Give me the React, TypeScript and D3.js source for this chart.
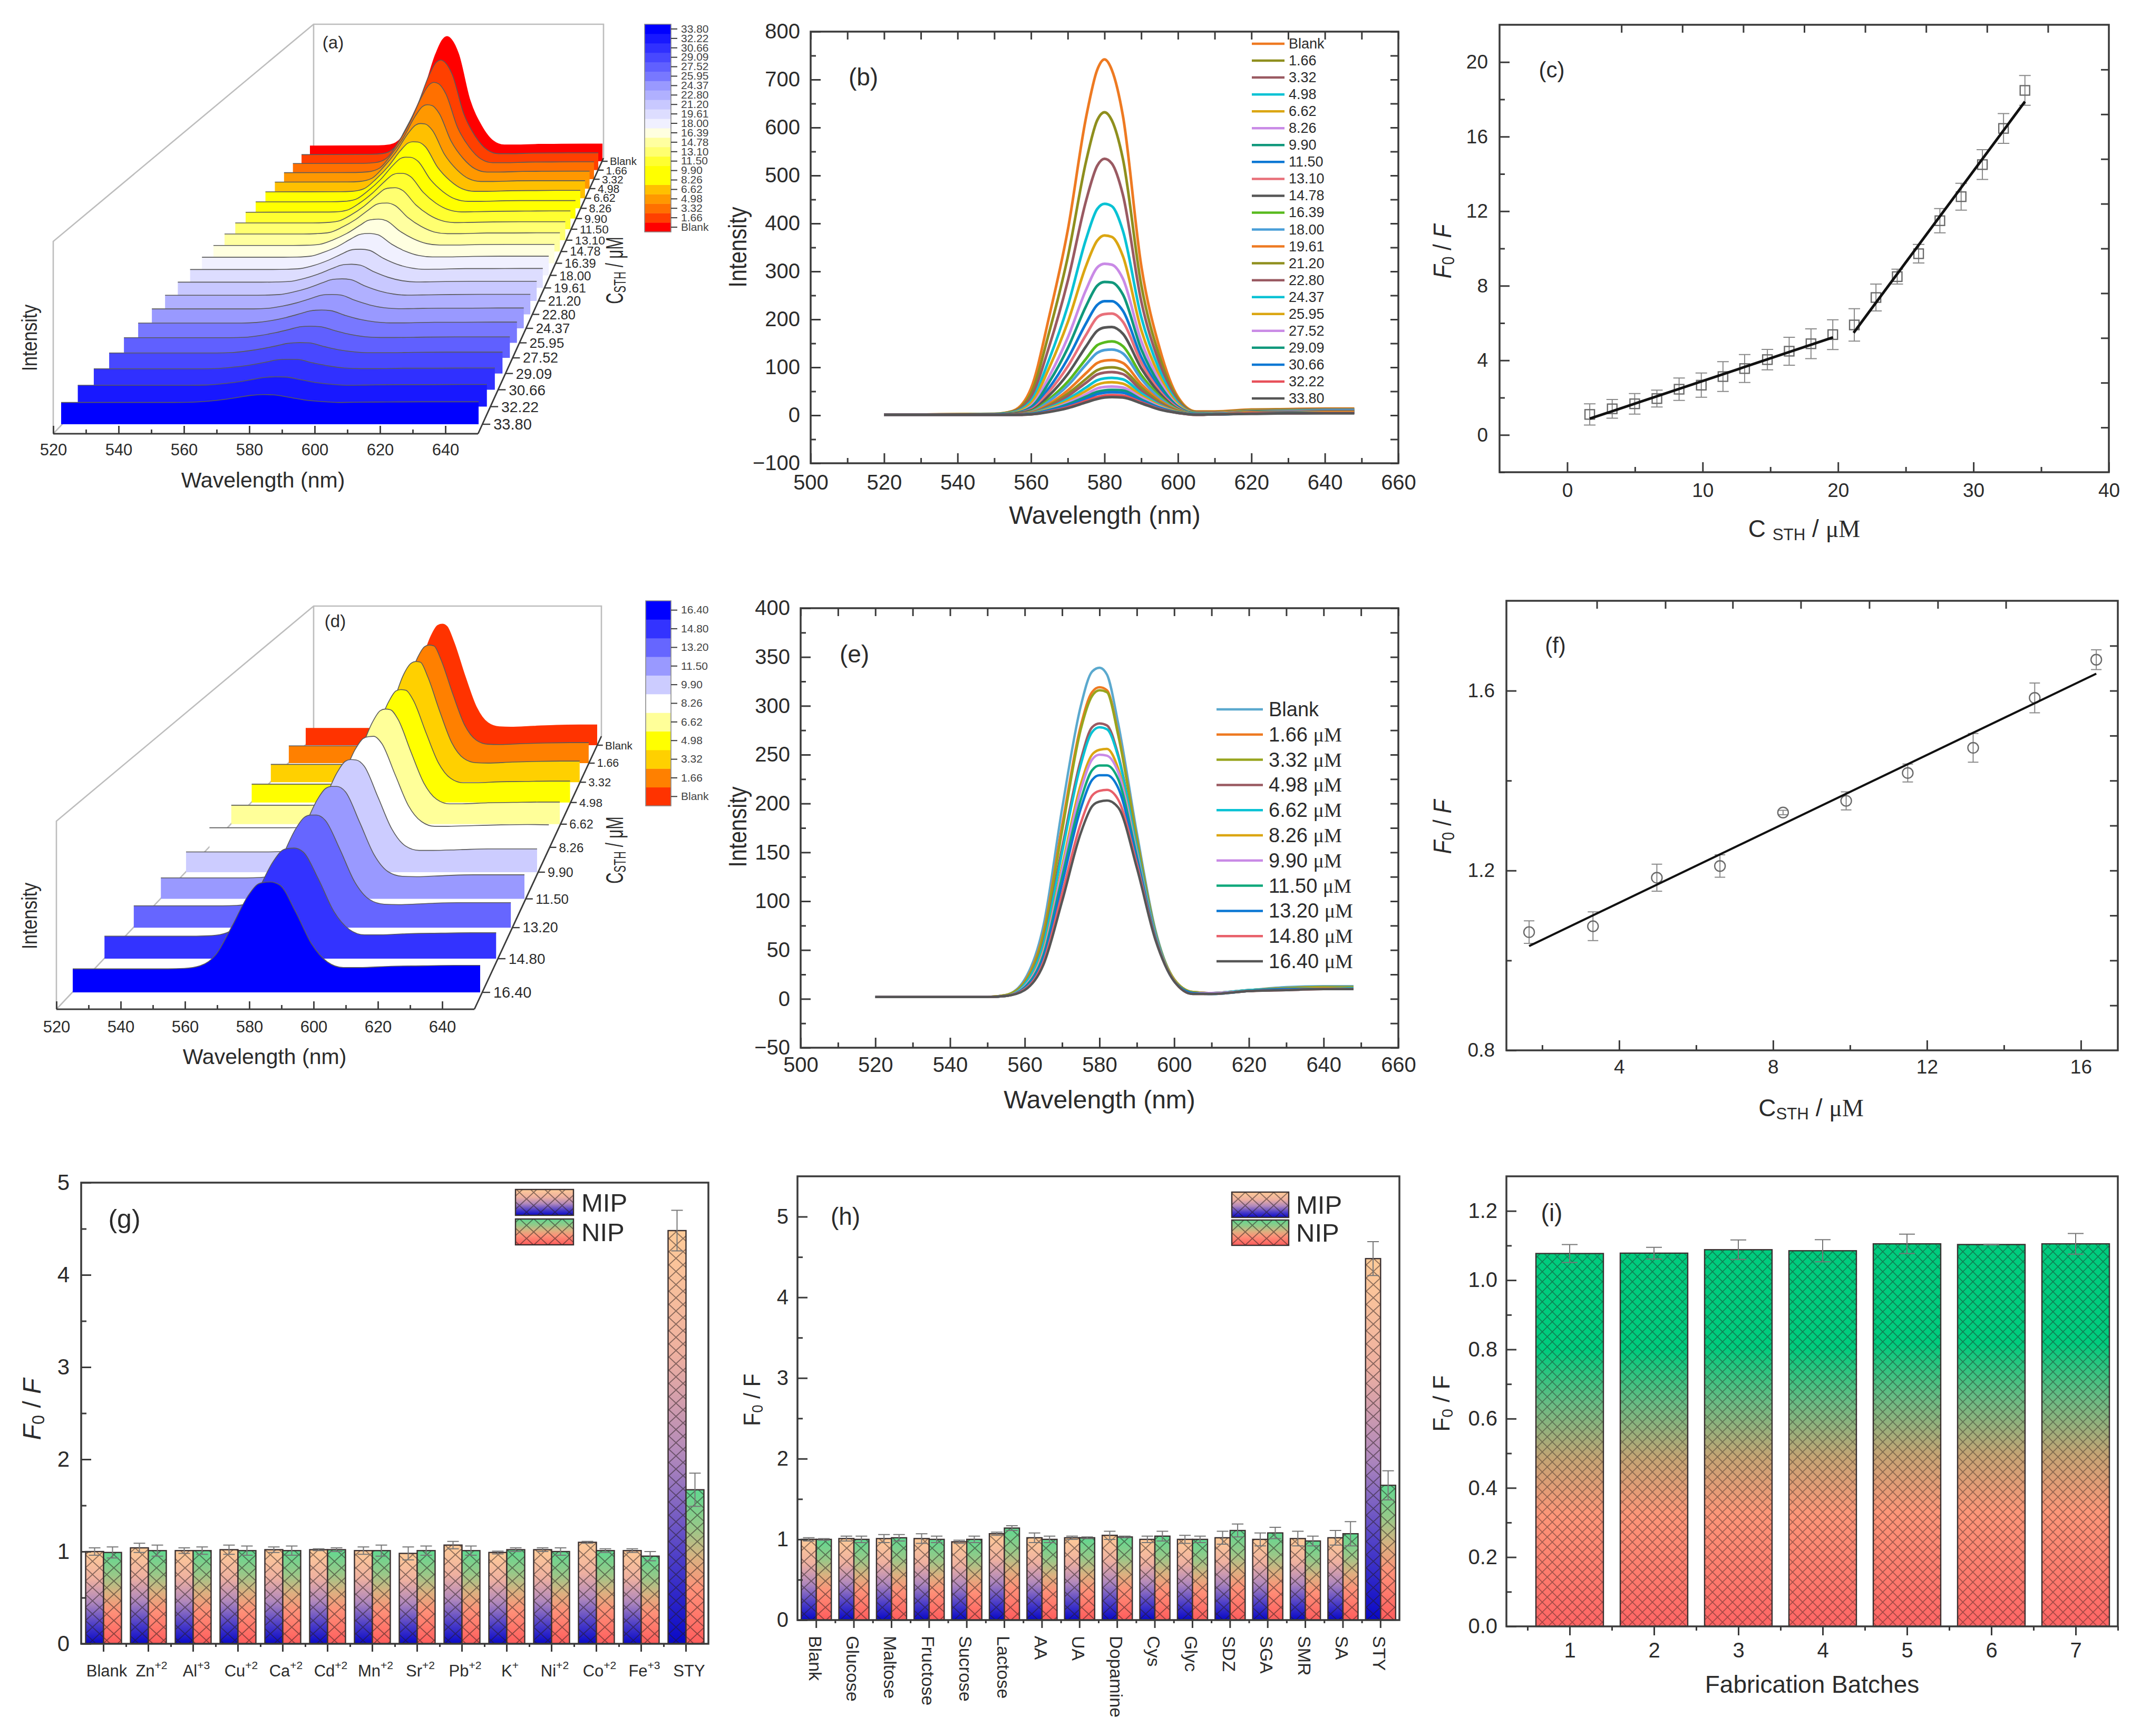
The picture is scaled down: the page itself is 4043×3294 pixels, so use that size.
import React, { useEffect, useRef } from 'react';
import * as d3 from 'd3';

const SANS = '"Liberation Sans", Arial, sans-serif';
const SERIF = '"Liberation Serif", "Times New Roman", serif';
const INK = '#2b2b2b';

// wavelength knots the spectra were read at
const WAVELENGTHS = [520, 550, 555, 560, 565, 570, 575, 578, 580, 582, 585, 590, 595, 600, 605, 610, 620, 630, 640, 648];

const LEVELS_B = ['Blank', '1.66', '3.32', '4.98', '6.62', '8.26', '9.90', '11.50', '13.10', '14.78', '16.39', '18.00', '19.61', '21.20', '22.80', '24.37', '25.95', '27.52', '29.09', '30.66', '32.22', '33.80'];
const SPECTRA_B = [
  [1, 3, 9, 56, 208, 386, 622, 720, 742, 720, 625, 312, 140, 38, 8, 8, 12, 13, 14, 14],
  [1, 3, 8, 46, 175, 330, 530, 615, 632, 615, 535, 272, 122, 34, 7, 7, 11, 12, 13, 13],
  [1, 2, 7, 38, 145, 280, 448, 520, 535, 525, 460, 238, 108, 30, 6, 6, 10, 11, 12, 12],
  [1, 2, 6, 30, 118, 228, 368, 430, 441, 436, 385, 205, 94, 26, 5, 5, 9, 10, 11, 11],
  [1, 2, 5, 25, 100, 194, 312, 364, 375, 372, 332, 178, 82, 23, 5, 5, 9, 10, 10, 10],
  [1, 2, 4, 20, 82, 162, 262, 308, 316, 314, 285, 155, 72, 20, 4, 4, 8, 9, 10, 10],
  [1, 2, 4, 17, 70, 140, 228, 270, 278, 277, 252, 138, 64, 18, 4, 4, 8, 9, 9, 9],
  [1, 2, 3, 14, 58, 118, 192, 230, 238, 238, 218, 122, 56, 16, 3, 4, 7, 8, 9, 9],
  [1, 1, 3, 12, 50, 102, 168, 204, 211, 212, 195, 110, 51, 15, 3, 4, 7, 8, 8, 8],
  [1, 1, 3, 10, 42, 86, 144, 176, 183, 184, 170, 98, 46, 13, 3, 3, 7, 7, 8, 8],
  [1, 1, 2, 8, 34, 70, 118, 146, 152, 154, 144, 84, 40, 12, 3, 3, 6, 7, 7, 7],
  [1, 1, 2, 7, 30, 62, 106, 130, 136, 137, 129, 76, 36, 11, 3, 3, 6, 7, 7, 7],
  [1, 1, 2, 6, 24, 52, 88, 109, 114, 115, 109, 65, 31, 10, 2, 3, 6, 6, 7, 7],
  [1, 1, 2, 5, 21, 45, 76, 94, 99, 100, 95, 58, 28, 9, 2, 3, 5, 6, 6, 6],
  [1, 1, 2, 5, 19, 40, 68, 85, 89, 90, 86, 52, 25, 8, 2, 3, 5, 6, 6, 6],
  [1, 1, 1, 4, 16, 34, 58, 73, 77, 78, 75, 46, 22, 7, 2, 3, 5, 5, 6, 6],
  [1, 1, 1, 4, 14, 30, 51, 64, 68, 69, 66, 41, 20, 7, 2, 2, 5, 5, 6, 6],
  [1, 1, 1, 3, 12, 26, 44, 56, 59, 60, 58, 37, 18, 6, 2, 2, 4, 5, 5, 5],
  [1, 1, 1, 3, 11, 23, 39, 49, 52, 53, 52, 33, 16, 6, 2, 2, 4, 5, 5, 5],
  [1, 1, 1, 3, 10, 20, 34, 44, 47, 48, 47, 30, 15, 5, 2, 2, 4, 4, 5, 5],
  [1, 1, 1, 2, 8, 17, 30, 38, 41, 42, 41, 27, 13, 5, 1, 2, 4, 4, 5, 5],
  [1, 1, 1, 2, 7, 15, 27, 34, 37, 38, 37, 25, 12, 5, 1, 2, 3, 4, 4, 4],
];
const LINE_COLORS_B = ['#ee7a22', '#8f8f1e', '#9a5a62', '#08c2d4', '#dba612', '#c98ae6', '#10987c', '#0c78d4', '#e8707a', '#565656', '#58ba1e', '#4a9fd8', '#ee7a22', '#8f8f1e', '#9a5a62', '#08c2d4', '#dba612', '#c98ae6', '#10987c', '#0c78d4', '#e8505a', '#565656'];
const RIBBON_COLORS_A = ['#ff0000', '#ff4000', '#ff7000', '#ff9800', '#ffc000', '#ffff00', '#ffff00', '#ffff30', '#ffff70', '#ffffa0', '#ffffe0', '#f0f0ff', '#ddddff', '#c8c8ff', '#b0b0ff', '#9999ff', '#7878ff', '#6060ff', '#4848ff', '#3030ff', '#1818ff', '#0000ff'];

const LEVELS_E = ['Blank', '1.66', '3.32', '4.98', '6.62', '8.26', '9.90', '11.50', '13.20', '14.80', '16.40'];
const SPECTRA_E = [
  [2, 2, 4, 20, 75, 195, 300, 335, 339, 332, 282, 170, 70, 20, 7, 6, 9, 12, 13, 13],
  [2, 2, 4, 18, 68, 178, 280, 314, 319, 316, 272, 165, 68, 20, 7, 6, 9, 11, 12, 12],
  [2, 2, 4, 17, 65, 172, 276, 310, 316, 314, 270, 164, 68, 20, 7, 6, 9, 11, 12, 12],
  [2, 2, 3, 15, 58, 155, 245, 278, 282, 280, 250, 156, 66, 19, 6, 6, 9, 10, 11, 11],
  [2, 2, 3, 15, 56, 150, 240, 273, 278, 276, 248, 155, 66, 19, 6, 6, 9, 10, 11, 11],
  [2, 2, 3, 13, 50, 136, 220, 250, 255, 256, 236, 150, 64, 19, 6, 6, 8, 10, 11, 10],
  [2, 2, 3, 13, 48, 132, 214, 245, 250, 249, 232, 149, 64, 18, 6, 6, 8, 10, 10, 10],
  [2, 2, 3, 12, 45, 125, 204, 234, 239, 239, 225, 146, 63, 18, 6, 5, 8, 10, 10, 10],
  [2, 2, 3, 11, 42, 118, 195, 224, 229, 229, 216, 143, 62, 18, 6, 5, 8, 10, 10, 10],
  [2, 2, 3, 10, 38, 108, 180, 208, 213, 214, 204, 138, 61, 18, 5, 5, 8, 9, 10, 10],
  [2, 2, 3, 9, 35, 100, 170, 197, 202, 203, 196, 134, 60, 18, 5, 5, 8, 9, 10, 10],
];
const LINE_COLORS_E = ['#5ba9ce', '#ee7a22', '#98a51e', '#9a5a62', '#08c2d4', '#dba612', '#c98ae6', '#10a87c', '#0c78d4', '#e8606a', '#565656'];
const RIBBON_COLORS_D = ['#ff3300', '#ff8000', '#ffd000', '#ffff00', '#ffff99', '#ffffff', '#ccccff', '#9999ff', '#6666ff', '#3333ff', '#0000ff'];

// (c) calibration points
const CONC_C = [1.66, 3.32, 4.98, 6.62, 8.26, 9.9, 11.5, 13.1, 14.78, 16.39, 18, 19.61, 21.2, 22.8, 24.37, 25.95, 27.52, 29.09, 30.66, 32.22, 33.8];
const RATIO_C = [1.1, 1.4, 1.67, 1.95, 2.45, 2.67, 3.13, 3.56, 4.04, 4.49, 4.89, 5.38, 5.9, 7.37, 8.49, 9.72, 11.49, 12.78, 14.5, 16.44, 18.48];
const ERR_C = [0.57, 0.5, 0.55, 0.45, 0.6, 0.65, 0.8, 0.75, 0.55, 0.75, 0.8, 0.8, 0.87, 0.72, 0.4, 0.5, 0.65, 0.72, 0.8, 0.8, 0.8];
const FITS_C = [[[1.66, 0.87], [19.63, 5.23]], [[21.15, 5.48], [33.8, 17.88]]];

// (f) calibration points
const CONC_F = [1.66, 3.32, 4.98, 6.62, 8.26, 9.9, 11.5, 13.2, 14.8, 16.4];
const RATIO_F = [1.063, 1.076, 1.184, 1.21, 1.329, 1.355, 1.417, 1.473, 1.584, 1.669];
const ERR_F = [0.025, 0.032, 0.03, 0.025, 0.005, 0.02, 0.02, 0.032, 0.033, 0.022];
const FIT_F = [[1.66, 1.032], [16.4, 1.638]];

// (g) metal ions
const IONS = ['Blank', 'Zn^+2', 'Al^+3', 'Cu^+2', 'Ca^+2', 'Cd^+2', 'Mn^+2', 'Sr^+2', 'Pb^+2', 'K^+', 'Ni^+2', 'Co^+2', 'Fe^+3', 'STY'];
const MIP_G = [1.0, 1.04, 1.01, 1.02, 1.02, 1.02, 1.01, 0.98, 1.07, 0.99, 1.02, 1.1, 1.01, 4.48];
const NIP_G = [0.99, 1.01, 1.01, 1.01, 1.01, 1.02, 1.01, 1.01, 1.01, 1.02, 1.0, 1.01, 0.95, 1.67];
const MIP_ERR_G = [0.04, 0.05, 0.03, 0.05, 0.03, 0.01, 0.04, 0.07, 0.04, 0.015, 0.02, 0.01, 0.02, 0.22];
const NIP_ERR_G = [0.06, 0.06, 0.04, 0.05, 0.05, 0.02, 0.06, 0.05, 0.05, 0.02, 0.04, 0.02, 0.05, 0.18];

// (h) organics
const ANALYTES = ['Blank', 'Glucose', 'Maltose', 'Fructose', 'Sucrose', 'Lactose', 'AA', 'UA', 'Dopamine', 'Cys', 'Glyc', 'SDZ', 'SGA', 'SMR', 'SA', 'STY'];
const MIP_H = [1.0, 1.01, 1.01, 1.01, 0.97, 1.07, 1.02, 1.02, 1.05, 1.0, 1.0, 1.02, 1.0, 1.01, 1.02, 4.48];
const NIP_H = [1.0, 1.0, 1.02, 1.0, 1.0, 1.14, 1.0, 1.02, 1.03, 1.04, 1.0, 1.11, 1.08, 0.98, 1.07, 1.67];
const MIP_ERR_H = [0.02, 0.03, 0.05, 0.06, 0.02, 0.02, 0.06, 0.02, 0.05, 0.04, 0.05, 0.08, 0.08, 0.09, 0.09, 0.21];
const NIP_ERR_H = [0.01, 0.04, 0.04, 0.04, 0.04, 0.03, 0.04, 0.01, 0.01, 0.06, 0.04, 0.08, 0.07, 0.06, 0.15, 0.18];

// (i) batches
const BATCHES = [1, 2, 3, 4, 5, 6, 7];
const BATCH_VALUES = [1.077, 1.078, 1.088, 1.085, 1.105, 1.103, 1.105];
const BATCH_ERR = [0.026, 0.017, 0.028, 0.032, 0.028, 0.001, 0.03];

type Sel = d3.Selection<any, any, any, any>;
type Part = { t: string; italic?: boolean; sub?: boolean; sup?: boolean; serif?: boolean };

// text made of several runs, sub/superscripts handled with dy.
// squeeze narrows the run along its direction, the rotated titles need it
function richText(parent: Sel, parts: Part[], size: number, x: number, y: number, rotate = 0, anchor = 'middle', squeeze = 1) {
  const text = parent.append('text')
    .attr('transform', `translate(${x},${y}) rotate(${rotate}) scale(${squeeze},1)`)
    .attr('text-anchor', anchor)
    .attr('dominant-baseline', 'central')
    .attr('font-family', SANS)
    .attr('font-size', size)
    .attr('fill', INK);
  let shift = 0;
  parts.forEach(p => {
    const target = p.sub ? size * 0.24 : p.sup ? -size * 0.34 : 0;
    const span = text.append('tspan').text(p.t).attr('dy', target - shift);
    shift = target;
    if (p.sub || p.sup) span.attr('font-size', size * 0.68);
    if (p.italic) span.attr('font-style', 'italic');
    if (p.serif) span.attr('font-family', SERIF);
  });
  return text;
}

const label = (parent: Sel, t: string, size: number, x: number, y: number, rotate = 0, anchor = 'middle', squeeze = 1) =>
  richText(parent, [{ t }], size, x, y, rotate, anchor, squeeze);

const F0F_ITALIC: Part[] = [{ t: 'F', italic: true }, { t: '0', sub: true }, { t: ' / ' }, { t: 'F', italic: true }];
const F0F_PLAIN: Part[] = [{ t: 'F' }, { t: '0', sub: true }, { t: ' / F' }];

function styleAxis(g: Sel, size: number, width = 3) {
  g.select('.domain').remove();
  g.selectAll('line').attr('stroke', '#3a3a3a').attr('stroke-width', width);
  g.selectAll('text').attr('font-family', SANS).attr('font-size', size).attr('fill', INK);
}

function addAxis(root: Sel, gen: any, x: number, y: number, size = 0, width = 3) {
  const g = root.append('g').attr('transform', `translate(${x},${y})`).call(gen);
  styleAxis(g, size, width);
  return g;
}

type FrameOpts = {
  x: d3.ScaleLinear<number, number>;
  y: d3.ScaleLinear<number, number>;
  xMajor: number[]; xMinor: number[]; xTop: number[];
  yMajor: number[]; yMinor: number[]; yRight: number[];
  size: number; xPad: number; yPad: number; yFormat: (v: any) => string;
};

// box with inward ticks, as in the line and scatter panels
function drawFrame(root: Sel, o: FrameOpts) {
  const [x0, x1] = o.x.range();
  const [y1, y0] = o.y.range();
  addAxis(root, d3.axisBottom(o.x).tickValues(o.xMajor).tickSize(-19).tickPadding(o.xPad).tickFormat(d3.format('d') as any), 0, y1, o.size);
  addAxis(root, d3.axisBottom(o.x).tickValues(o.xMinor).tickSize(-10).tickFormat(() => ''), 0, y1);
  addAxis(root, d3.axisTop(o.x).tickValues(o.xTop).tickSize(-15).tickFormat(() => ''), 0, y0);
  addAxis(root, d3.axisLeft(o.y).tickValues(o.yMajor).tickSize(-19).tickPadding(o.yPad).tickFormat(o.yFormat), x0, 0, o.size);
  addAxis(root, d3.axisLeft(o.y).tickValues(o.yMinor).tickSize(-10).tickFormat(() => ''), x0, 0);
  addAxis(root, d3.axisRight(o.y).tickValues(o.yRight).tickSize(-15).tickFormat(() => ''), x1, 0);
  root.append('rect').attr('x', x0).attr('y', y0).attr('width', x1 - x0).attr('height', y1 - y0)
    .attr('fill', 'none').attr('stroke', '#3a3a3a').attr('stroke-width', 3.5);
}

type WaterfallOpts = {
  levels: string[]; spectra: number[][]; colors: string[]; warp: number;
  left: [number, number]; right: [number, number]; base: [number, number];
  thick: number; gain: number;
  wall: { floorX: [number, number]; floorY: number; wallY: number; backX: [number, number]; backTop: number; backBottom: number };
  bar: { x: number; w: number; y0: number; y1: number };
  tag: string; tagX: number; tagY: number;
  tickY: number; titleX: number; titleY: number; intensityY: number; zTitleY: number;
};

function drawWaterfall(root: Sel, o: WaterfallOpts) {
  const w = o.wall;
  const n = o.levels.length;
  const warp = (t: number) => (t * (1 + o.warp)) / (1 + o.warp * t);
  const leftAt = d3.scaleLinear().domain([0, 1]).range(o.left);
  const rightAt = d3.scaleLinear().domain([0, 1]).range(o.right);
  const baseAt = d3.scaleLinear().domain([0, 1]).range(o.base);
  const frontWidth = o.right[0] - o.left[0];
  const wallStroke = (s: Sel) => s.attr('fill', 'none').attr('stroke', '#bdbdbd').attr('stroke-width', 2.6);

  root.append('path').call(wallStroke)
    .attr('d', d3.line()([[w.floorX[0], w.floorY], [w.floorX[0], w.wallY], [w.backX[0], w.backTop], [w.backX[1], w.backTop], [w.backX[1], w.backBottom]]));
  root.append('path').call(wallStroke)
    .attr('d', d3.line()([[w.backX[0], w.backTop], [w.backX[0], w.backBottom]]));
  root.append('path').call(wallStroke)
    .attr('d', d3.line()([[w.floorX[0], w.floorY], [w.backX[0], w.backBottom]]));

  const diag = d3.scaleLinear().domain([w.floorY, w.backBottom]).range([w.floorX[1], w.backX[1]]);

  // back row first so that the nearer ribbons cover it
  o.levels.forEach((lev, idx) => {
    const d = warp((n - 1 - idx) / (n - 1));
    const s = (rightAt(d) - leftAt(d)) / frontWidth;
    const xs = d3.scaleLinear().domain([520, 648]).range([leftAt(d), rightAt(d)]);
    const ys = (v: number) => baseAt(d) - s * (o.thick + v * o.gain);
    const pts = WAVELENGTHS.map((wl, i) => [wl, o.spectra[idx][i]] as [number, number]);
    root.append('path')
      .attr('d', d3.area<[number, number]>().x(p => xs(p[0])).y0(baseAt(d)).y1(p => ys(p[1])).curve(d3.curveMonotoneX)(pts))
      .attr('fill', o.colors[idx]);
    root.append('path')
      .attr('d', d3.line<[number, number]>().x(p => xs(p[0])).y(p => ys(p[1])).curve(d3.curveMonotoneX)(pts))
      .attr('fill', 'none').attr('stroke', idx === 0 ? o.colors[0] : '#5a5a5a').attr('stroke-width', 1.6);

    const tx = diag(baseAt(d));
    root.append('line').attr('x1', tx).attr('x2', tx + 15 * s).attr('y1', baseAt(d)).attr('y2', baseAt(d))
      .attr('stroke', '#3a3a3a').attr('stroke-width', 2.4);
    label(root, lev, 29 * s, tx + 21 * s, baseAt(d), 0, 'start');
  });

  // floor lines
  root.append('line').attr('x1', w.floorX[1]).attr('x2', w.backX[1]).attr('y1', w.floorY).attr('y2', w.backBottom)
    .attr('stroke', '#3a3a3a').attr('stroke-width', 2.8);
  const xAxis = d3.scaleLinear().domain([520, 650]).range(w.floorX);
  addAxis(root, d3.axisBottom(xAxis).tickValues(d3.range(520, 641, 20)).tickSize(-15).tickPadding(o.tickY - w.floorY - 11).tickFormat(d3.format('d') as any), 0, w.floorY, 31, 2.8);
  addAxis(root, d3.axisBottom(xAxis).tickValues(d3.range(530, 641, 20)).tickSize(-8).tickFormat(() => ''), 0, w.floorY, 0, 2.8);
  root.append('line').attr('x1', w.floorX[0]).attr('x2', w.floorX[1]).attr('y1', w.floorY).attr('y2', w.floorY)
    .attr('stroke', '#3a3a3a').attr('stroke-width', 3.2);

  label(root, 'Wavelength (nm)', 41, o.titleX, o.titleY);
  label(root, 'Intensity', 41, 56, o.intensityY, -90, 'middle', 0.83);
  label(root, o.tag, 33, o.tagX, o.tagY);
  richText(root, [{ t: 'C' }, { t: 'STH', sub: true }, { t: ' / ' }, { t: 'μM' }], 46, 1165, o.zTitleY, -90, 'middle', 0.64);

  // stepped colour key, top is the last level
  const key = d3.scaleBand<string>().domain([...o.levels].reverse()).range([o.bar.y0, o.bar.y1]);
  o.levels.forEach((lev, idx) => {
    root.append('rect').attr('x', o.bar.x).attr('width', o.bar.w).attr('y', key(lev)!).attr('height', key.bandwidth() + 0.5).attr('fill', o.colors[idx]);
  });
  root.append('rect').attr('x', o.bar.x).attr('y', o.bar.y0).attr('width', o.bar.w).attr('height', o.bar.y1 - o.bar.y0)
    .attr('fill', 'none').attr('stroke', '#8a8a8a').attr('stroke-width', 1.6);
  const keyAxis = addAxis(root, d3.axisRight(key).tickSize(12).tickPadding(7), o.bar.x + o.bar.w, 0, 21, 2);
  keyAxis.selectAll('text').attr('fill', '#444');
}

function drawSpectra(root: Sel, spectra: number[][], colors: string[], x: any, y: any, width: number) {
  const line = d3.line<[number, number]>().x(p => x(p[0])).y(p => y(p[1])).curve(d3.curveMonotoneX);
  spectra.forEach((vals, idx) => {
    const pts = WAVELENGTHS.map((wl, i) => [wl, vals[i]] as [number, number]);
    root.append('path').attr('d', line(pts)).attr('fill', 'none').attr('stroke', colors[idx]).attr('stroke-width', width);
  });
}

function errorBars(root: Sel, xs: number[], ys: number[], errs: number[], x: any, y: any, cap: number, color: string, width: number) {
  xs.forEach((v, i) => {
    const px = x(v);
    root.append('path')
      .attr('d', `M${px},${y(ys[i] - errs[i])}V${y(ys[i] + errs[i])}M${px - cap},${y(ys[i] + errs[i])}H${px + cap}M${px - cap},${y(ys[i] - errs[i])}H${px + cap}`)
      .attr('fill', 'none').attr('stroke', color).attr('stroke-width', width);
  });
}

function makeGradient(defs: Sel, id: string, stops: [number, string][]) {
  const g = defs.append('linearGradient').attr('id', id).attr('x1', 0).attr('y1', 0).attr('x2', 0).attr('y2', 1);
  stops.forEach(([o, c]) => g.append('stop').attr('offset', o).attr('stop-color', c));
}

function makeHatch(defs: Sel, id: string, w: number, h: number, alpha: number, width: number) {
  defs.append('pattern').attr('id', id).attr('patternUnits', 'userSpaceOnUse').attr('width', w).attr('height', h)
    .append('path').attr('d', `M0,0L${w},${h}M${w},0L0,${h}`)
    .attr('stroke', `rgba(35,25,25,${alpha})`).attr('stroke-width', width).attr('fill', 'none');
}

function hatchedRect(root: Sel, x: number, y: number, w: number, h: number, grad: string, hatch: string) {
  root.append('rect').attr('x', x).attr('y', y).attr('width', w).attr('height', h).attr('fill', `url(#${grad})`);
  root.append('rect').attr('x', x).attr('y', y).attr('width', w).attr('height', h).attr('fill', `url(#${hatch})`)
    .attr('stroke', '#3a3030').attr('stroke-width', 2.4);
}

type PairOpts = {
  cats: string[]; mip: number[]; nip: number[]; mipErr: number[]; nipErr: number[];
  x0: number; x1: number; y0: number; y1: number; yMax: number;
  size: number; yPad: number;
  legend: { x: number; w: number; tops: [number, number]; h: number; textX: number };
  drawLabel: (root: Sel, cat: string, px: number) => void;
};

function drawPairBars(root: Sel, o: PairOpts) {
  const band = d3.scaleBand<string>().domain(o.cats).range([o.x0, o.x1]).paddingInner(0.2).paddingOuter(0.1);
  const y = d3.scaleLinear().domain([0, o.yMax]).range([o.y1, o.y0]);
  const w = band.bandwidth() / 2;
  o.cats.forEach((c, i) => {
    const bx = band(c)!;
    hatchedRect(root, bx, y(o.mip[i]), w, y(0) - y(o.mip[i]), 'gradMip', 'hatchBig');
    hatchedRect(root, bx + w, y(o.nip[i]), w, y(0) - y(o.nip[i]), 'gradNip', 'hatchBig');
    o.drawLabel(root, c, bx + w);
  });
  errorBars(root, o.mip.map((_, i) => i), o.mip, o.mipErr, (i: number) => band(o.cats[i])! + w / 2, y, 11, '#777', 2);
  errorBars(root, o.nip.map((_, i) => i), o.nip, o.nipErr, (i: number) => band(o.cats[i])! + (3 * w) / 2, y, 11, '#777', 2);

  addAxis(root, d3.axisBottom(band).tickValues(o.cats).tickSize(15).tickFormat(() => ''), 0, o.y1);
  const edges = d3.scaleLinear().domain([0, o.cats.length]).range([o.x0, o.x1]);
  addAxis(root, d3.axisBottom(edges).tickValues(d3.range(1, o.cats.length)).tickSize(6).tickFormat(() => ''), 0, o.y1);
  addAxis(root, d3.axisLeft(y).tickValues(d3.range(0, 5.01)).tickSize(-19).tickPadding(o.yPad).tickFormat(d3.format('d') as any), o.x0, 0, o.size);
  addAxis(root, d3.axisLeft(y).tickValues(d3.range(0.5, 5.01, 1)).tickSize(-10).tickFormat(() => ''), o.x0, 0);
  root.append('rect').attr('x', o.x0).attr('y', o.y0).attr('width', o.x1 - o.x0).attr('height', o.y1 - o.y0)
    .attr('fill', 'none').attr('stroke', '#3a3a3a').attr('stroke-width', 3.5);

  const l = o.legend;
  hatchedRect(root, l.x, l.tops[0], l.w, l.h, 'gradMip', 'hatchBig');
  hatchedRect(root, l.x, l.tops[1], l.w, l.h, 'gradNip', 'hatchBig');
  label(root, 'MIP', 49, l.textX, l.tops[0] + l.h / 2, 0, 'start');
  label(root, 'NIP', 49, l.textX, l.tops[1] + l.h / 2, 0, 'start');
}

const App: React.FC = () => {
  const svgRef = useRef<SVGSVGElement>(null);

  useEffect(() => {
    if (!svgRef.current) return;
    const svg = d3.select(svgRef.current);
    svg.html('');
    const defs = svg.append('defs');
    makeGradient(defs, 'gradMip', [[0, '#ffcb98'], [0.3, '#eeb0a0'], [0.55, '#b088bc'], [0.8, '#4a3cc8'], [1, '#0808c8']]);
    makeGradient(defs, 'gradNip', [[0, '#60d890'], [0.25, '#98c888'], [0.45, '#dcb080'], [0.65, '#ff9078'], [1, '#ff5c5c']]);
    makeGradient(defs, 'gradBatch', [[0, '#00cc7e'], [0.26, '#00cc7e'], [0.4, '#66bc84'], [0.55, '#c4a474'], [0.7, '#fc9678'], [1, '#ff6464']]);
    makeHatch(defs, 'hatchBig', 27, 25, 0.5, 2);
    makeHatch(defs, 'hatchSmall', 19, 19, 0.42, 1.7);

    // (a)
    drawWaterfall(svg, {
      levels: LEVELS_B, spectra: SPECTRA_B, colors: RIBBON_COLORS_A, warp: 0.435,
      left: [116, 588], right: [908, 1143], base: [805, 306], thick: 41, gain: 0.4,
      wall: { floorX: [101, 907], floorY: 823, wallY: 458, backX: [595, 1145], backTop: 46, backBottom: 300 },
      bar: { x: 1223, w: 50, y0: 46, y1: 440 },
      tag: '(a)', tagX: 632, tagY: 80, tickY: 853, titleX: 499, titleY: 911, intensityY: 641, zTitleY: 513,
    });

    // (d)
    drawWaterfall(svg, {
      levels: LEVELS_E, spectra: SPECTRA_E, colors: RIBBON_COLORS_D, warp: 0.42,
      left: [138, 580], right: [911, 1133], base: [1883, 1414], thick: 43, gain: 0.82,
      wall: { floorX: [107, 900], floorY: 1915, wallY: 1558, backX: [595, 1141], backTop: 1150, backBottom: 1397 },
      bar: { x: 1225, w: 48, y0: 1140, y1: 1529 },
      tag: '(d)', tagX: 636, tagY: 1178, tickY: 1948, titleX: 502, titleY: 2005, intensityY: 1738, zTitleY: 1613,
    });

    // (b)
    const xB = d3.scaleLinear().domain([500, 660]).range([1538, 2653]);
    const yB = d3.scaleLinear().domain([-100, 800]).range([879, 60]);
    drawSpectra(svg, SPECTRA_B, LINE_COLORS_B, xB, yB, 5);
    drawFrame(svg, {
      x: xB, y: yB, xMajor: d3.range(500, 661, 20), xMinor: d3.range(510, 660, 20), xTop: d3.range(500, 661, 10),
      yMajor: d3.range(-100, 801, 100), yMinor: d3.range(-50, 800, 100), yRight: d3.range(-100, 801, 50),
      size: 40, xPad: 22, yPad: 20, yFormat: d3.format('d') as any,
    });
    label(svg, '(b)', 46, 1638, 146);
    label(svg, 'Wavelength (nm)', 48, 2096, 977);
    label(svg, 'Intensity', 48, 1399, 469, -90, 'middle', 0.855);
    const rowB = d3.scalePoint<string>().domain(LEVELS_B).range([83, 756]);
    LEVELS_B.forEach((lev, i) => {
      svg.append('line').attr('x1', 2375).attr('x2', 2437).attr('y1', rowB(lev)!).attr('y2', rowB(lev)!)
        .attr('stroke', LINE_COLORS_B[i]).attr('stroke-width', 4.5);
      label(svg, lev, 27, 2445, rowB(lev)!, 0, 'start');
    });

    // (e)
    const xE = d3.scaleLinear().domain([500, 660]).range([1519, 2653]);
    const yE = d3.scaleLinear().domain([-50, 400]).range([1988, 1154]);
    drawSpectra(svg, SPECTRA_E, LINE_COLORS_E, xE, yE, 4.5);
    drawFrame(svg, {
      x: xE, y: yE, xMajor: d3.range(500, 661, 20), xMinor: d3.range(510, 660, 20), xTop: d3.range(500, 661, 10),
      yMajor: d3.range(-50, 401, 50), yMinor: d3.range(-25, 400, 50), yRight: d3.range(-50, 401, 25),
      size: 40, xPad: 18, yPad: 20, yFormat: d3.format('d') as any,
    });
    label(svg, '(e)', 46, 1621, 1241);
    label(svg, 'Wavelength (nm)', 48, 2086, 2086);
    label(svg, 'Intensity', 48, 1399, 1569, -90, 'middle', 0.855);
    const rowE = d3.scalePoint<string>().domain(LEVELS_E).range([1346, 1824]);
    LEVELS_E.forEach((lev, i) => {
      svg.append('line').attr('x1', 2308).attr('x2', 2396).attr('y1', rowE(lev)!).attr('y2', rowE(lev)!)
        .attr('stroke', LINE_COLORS_E[i]).attr('stroke-width', 4.5);
      richText(svg, i === 0 ? [{ t: lev }] : [{ t: `${lev} ` }, { t: 'μM', serif: true }], 38, 2407, rowE(lev)!, 0, 'start');
    });

    // (c)
    const xC = d3.scaleLinear().domain([-5, 40]).range([2845, 4001]);
    const yC = d3.scaleLinear().domain([-2, 22]).range([896, 47]);
    errorBars(svg, CONC_C, RATIO_C, ERR_C, xC, yC, 11, '#8a8a8a', 2);
    svg.append('g').selectAll('rect').data(CONC_C).join('rect')
      .attr('x', d => xC(d) - 9).attr('y', (_, i) => yC(RATIO_C[i]) - 9).attr('width', 18).attr('height', 18)
      .attr('fill', 'none').attr('stroke', '#6a6a6a').attr('stroke-width', 2.4);
    FITS_C.forEach(seg => {
      svg.append('path').attr('d', d3.line<number[]>().x(p => xC(p[0])).y(p => yC(p[1]))(seg))
        .attr('fill', 'none').attr('stroke', '#111').attr('stroke-width', 5);
    });
    drawFrame(svg, {
      x: xC, y: yC, xMajor: d3.range(0, 41, 10), xMinor: d3.range(5, 40, 10), xTop: [4, 8.5, 13, 17.5, 22, 26.5, 31, 35.5],
      yMajor: d3.range(0, 21, 4), yMinor: d3.range(-2, 22, 4), yRight: [0.4, 2.8, 5.2, 7.6, 10, 12.4, 14.8, 17.2, 19.6],
      size: 37, xPad: 21, yPad: 22, yFormat: d3.format('d') as any,
    });
    label(svg, '(c)', 42, 2944, 132);
    richText(svg, F0F_ITALIC, 48, 2736, 477, -90, 'middle', 0.88);
    richText(svg, [{ t: 'C ' }, { t: 'STH', sub: true }, { t: ' / ' }, { t: 'μM', serif: true }], 46, 3423, 1003);

    // (f)
    const xF = d3.scaleLinear().domain([1.07, 16.96]).range([2858, 4018]);
    const yF = d3.scaleLinear().domain([0.8, 1.8]).range([1993, 1140]);
    errorBars(svg, CONC_F, RATIO_F, ERR_F, xF, yF, 10, '#8a8a8a', 2);
    svg.append('g').selectAll('circle').data(CONC_F).join('circle')
      .attr('cx', d => xF(d)).attr('cy', (_, i) => yF(RATIO_F[i])).attr('r', 10)
      .attr('fill', 'none').attr('stroke', '#6a6a6a').attr('stroke-width', 2.4);
    svg.append('path').attr('d', d3.line<number[]>().x(p => xF(p[0])).y(p => yF(p[1]))(FIT_F))
      .attr('fill', 'none').attr('stroke', '#111').attr('stroke-width', 4);
    drawFrame(svg, {
      x: xF, y: yF, xMajor: [4, 8, 12, 16], xMinor: [2, 6, 10, 14], xTop: [3.42, 5.2, 6.95, 8.72, 10.5, 12.28, 14.05],
      yMajor: [0.8, 1.2, 1.6], yMinor: [1.0, 1.4], yRight: [0.9, 1.0, 1.1, 1.2, 1.3, 1.4, 1.5, 1.6, 1.7],
      size: 37, xPad: 18, yPad: 22, yFormat: d3.format('.1f') as any,
    });
    label(svg, '(f)', 42, 2951, 1224);
    richText(svg, F0F_ITALIC, 48, 2736, 1569, -90, 'middle', 0.88);
    richText(svg, [{ t: 'C' }, { t: 'STH', sub: true }, { t: ' / ' }, { t: 'μM', serif: true }], 46, 3436, 2102);

    // (g)
    drawPairBars(svg, {
      cats: IONS, mip: MIP_G, nip: NIP_G, mipErr: MIP_ERR_G, nipErr: NIP_ERR_G,
      x0: 154, x1: 1344, y0: 2244, y1: 3119, yMax: 5, size: 42, yPad: 22,
      legend: { x: 978, w: 110, tops: [2257, 2313], h: 49, textX: 1103 },
      drawLabel: (root, cat, px) => {
        const [name, sup] = cat.split('^');
        richText(root, sup ? [{ t: name }, { t: sup, sup: true }] : [{ t: name }], 31, px + 6, 3170);
      },
    });
    label(svg, '(g)', 50, 236, 2313);
    richText(svg, F0F_ITALIC, 48, 60, 2674, -90);

    // (h)
    drawPairBars(svg, {
      cats: ANALYTES, mip: MIP_H, nip: NIP_H, mipErr: MIP_ERR_H, nipErr: NIP_ERR_H,
      x0: 1513, x1: 2655, y0: 2232, y1: 3074, yMax: 5.5, size: 40, yPad: 17,
      legend: { x: 2337, w: 108, tops: [2262, 2315], h: 48, textX: 2459 },
      drawLabel: (root, cat, px) => { label(root, cat, 34, px - 2, 3104, 90, 'start'); },
    });
    label(svg, '(h)', 46, 1604, 2308);
    richText(svg, F0F_PLAIN, 44, 1426, 2656, -90, 'middle', 0.93);

    // (i)
    const xI = d3.scaleLinear().domain([0.25, 7.5]).range([2858, 4018]);
    const yI = d3.scaleLinear().domain([0, 1.3]).range([3086, 2232]);
    const barW = xI(1.8) - xI(1);
    BATCHES.forEach((b, i) => {
      hatchedRect(svg, xI(b) - barW / 2, yI(BATCH_VALUES[i]), barW, yI(0) - yI(BATCH_VALUES[i]), 'gradBatch', 'hatchSmall');
    });
    errorBars(svg, BATCHES, BATCH_VALUES, BATCH_ERR, xI, yI, 15, '#777', 2);
    addAxis(svg, d3.axisBottom(xI).tickValues(BATCHES).tickSize(17).tickPadding(14).tickFormat(d3.format('d') as any), 0, 3086, 40);
    addAxis(svg, d3.axisBottom(xI).tickValues(d3.range(0.5, 7.6, 1)).tickSize(8).tickFormat(() => ''), 0, 3086);
    addAxis(svg, d3.axisLeft(yI).tickValues(d3.range(0, 1.21, 0.2)).tickSize(-19).tickPadding(17).tickFormat(d3.format('.1f') as any), 2858, 0, 40);
    addAxis(svg, d3.axisLeft(yI).tickValues(d3.range(0.1, 1.3, 0.2)).tickSize(-10).tickFormat(() => ''), 2858, 0);
    svg.append('rect').attr('x', 2858).attr('y', 2232).attr('width', 1160).attr('height', 854)
      .attr('fill', 'none').attr('stroke', '#3a3a3a').attr('stroke-width', 3.5);
    label(svg, '(i)', 46, 2944, 2301);
    richText(svg, F0F_PLAIN, 44, 2734, 2663, -90);
    label(svg, 'Fabrication Batches', 46, 3438, 3196);
  }, []);

  return (
    <svg
      ref={svgRef}
      width={4043}
      height={3294}
      viewBox="0 0 4043 3294"
      style={{ position: 'absolute', left: 0, top: 0, display: 'block', background: '#fff' }}
    />
  );
};

export default App;
